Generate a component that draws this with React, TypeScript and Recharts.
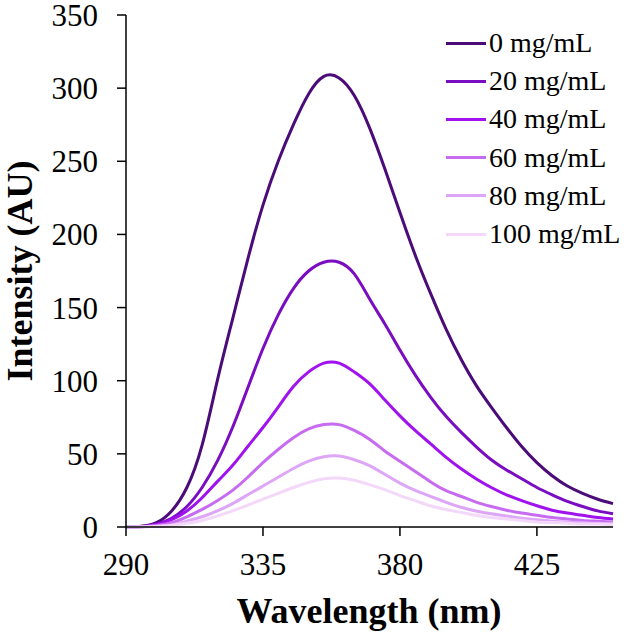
import React from "react";
import { Line, LineChart, XAxis, YAxis } from "recharts";

// wavelength grid (nm)
const wavelengths = [
  290, 295, 300, 305, 310, 315, 320, 325, 330, 335, 340, 345, 350, 355, 360, 365, 370,
  375, 380, 385, 390, 395, 400, 405, 410, 415, 420, 425, 430, 435, 440, 445, 450,
];

// intensities, one list per concentration
const conc0 = [
  0, 0.5, 3, 11, 27, 56, 100, 142, 183, 220, 250, 275, 296, 308, 307, 295, 273,
  245, 215, 186, 160, 136, 115, 97, 82, 68, 55, 44, 35, 28, 23, 19, 16,
];
const conc20 = [
  0, 0.3, 2, 6, 14, 27, 45, 68, 95, 122, 145, 163, 175, 181, 181, 173, 156,
  139, 121, 104, 89, 76, 65, 55, 46, 39, 33, 27, 22, 17.5, 14, 11, 9,
];
const conc40 = [
  0, 0.2, 1.5, 5, 11, 20, 31, 42, 55, 68, 82, 96, 106, 112, 112, 106, 98,
  87, 76, 66, 57, 48, 40, 33, 27, 22, 18, 14.5, 11.5, 9.5, 8, 6.5, 5.5,
];
const conc60 = [
  0, 0.1, 1, 3, 7, 12, 18, 25, 34, 44, 53, 61, 67, 70, 70, 66, 60,
  52, 45, 38, 31, 25, 21, 17, 14, 11.5, 9.5, 8, 6.5, 5.5, 4.5, 4, 3.5,
];
const conc80 = [
  0, 0.1, 0.5, 1.5, 4, 7, 11, 16, 22, 28, 34, 40, 45, 48, 48.5, 46, 42,
  36, 30, 25, 21, 17, 13.5, 11, 9, 7.5, 6, 5, 4, 3.5, 3, 2.5, 2.5,
];
const conc100 = [
  0, 0, 0.3, 1, 2.5, 4.5, 7.5, 11, 15, 19, 23, 27, 30.5, 33, 33.5, 32, 29,
  25.5, 21.5, 18, 14.5, 12, 10, 8, 6.5, 5.5, 4.5, 3.5, 3, 2.5, 2, 2, 1.5,
];

const seriesNames = ["0 mg/mL", "20 mg/mL", "40 mg/mL", "60 mg/mL", "80 mg/mL", "100 mg/mL"];
const seriesValues = [conc0, conc20, conc40, conc60, conc80, conc100];
const COLORS = ["#4b0b78", "#7a0cc2", "#a012ee", "#c76cf1", "#dea6f6", "#f3d8fa"];

const xTicks = [290, 335, 380, 425];
const yTicks = [0, 50, 100, 150, 200, 250, 300, 350];

const chartData = wavelengths.map((w, i) => {
  const row: Record<string, number> = { wavelength: w };
  seriesNames.forEach((name, s) => {
    row[name] = seriesValues[s][i];
  });
  return row;
});

const FONT = "'Liberation Serif', 'Times New Roman', serif";
const titleStyle = { fill: "#000", fontSize: 36, fontWeight: "bold" as const, fontFamily: FONT };

const App = () => {
  return (
    <div style={{ position: "absolute", left: 0, top: 0, width: 626, height: 634 }}>
      <LineChart
        width={626}
        height={634}
        data={chartData}
        margin={{ top: 15, right: 13, left: 0, bottom: 0 }}
      >
        <XAxis
          dataKey="wavelength"
          type="number"
          domain={[290, 450]}
          ticks={xTicks}
          tickSize={9}
          tickMargin={17}
          height={107}
          stroke="#000"
          strokeWidth={1.5}
          tick={{ fill: "#000", fontSize: 31, fontFamily: FONT }}
          label={() => (
            <text x={369} y={623} textAnchor="middle" style={titleStyle}>
              Wavelength (nm)
            </text>
          )}
        />
        <YAxis
          type="number"
          domain={[0, 350]}
          ticks={yTicks}
          interval={0}
          tickSize={9}
          tickMargin={19}
          width={126}
          stroke="#000"
          strokeWidth={1.5}
          tick={{ fill: "#000", fontSize: 31, fontFamily: FONT }}
          label={() => (
            <text
              x={0}
              y={0}
              transform="translate(32, 271) rotate(-90)"
              textAnchor="middle"
              style={titleStyle}
            >
              Intensity (AU)
            </text>
          )}
        />
        {seriesNames.map((name, i) => (
          <Line
            key={name}
            type="natural"
            dataKey={name}
            stroke={COLORS[i]}
            strokeWidth={3}
            dot={false}
            isAnimationActive={false}
          />
        ))}
      </LineChart>
      <div
        style={{
          position: "absolute",
          left: 446,
          top: 24,
          fontFamily: FONT,
          fontSize: 28,
          color: "#000",
        }}
      >
        {seriesNames.map((name, i) => (
          <div
            key={name}
            style={{ display: "flex", alignItems: "center", height: 38.2, whiteSpace: "nowrap" }}
          >
            <span
              style={{
                display: "inline-block",
                width: 40,
                height: 3,
                background: COLORS[i],
                marginRight: 3,
              }}
            />
            <span>{name}</span>
          </div>
        ))}
      </div>
    </div>
  );
};

export default App;
